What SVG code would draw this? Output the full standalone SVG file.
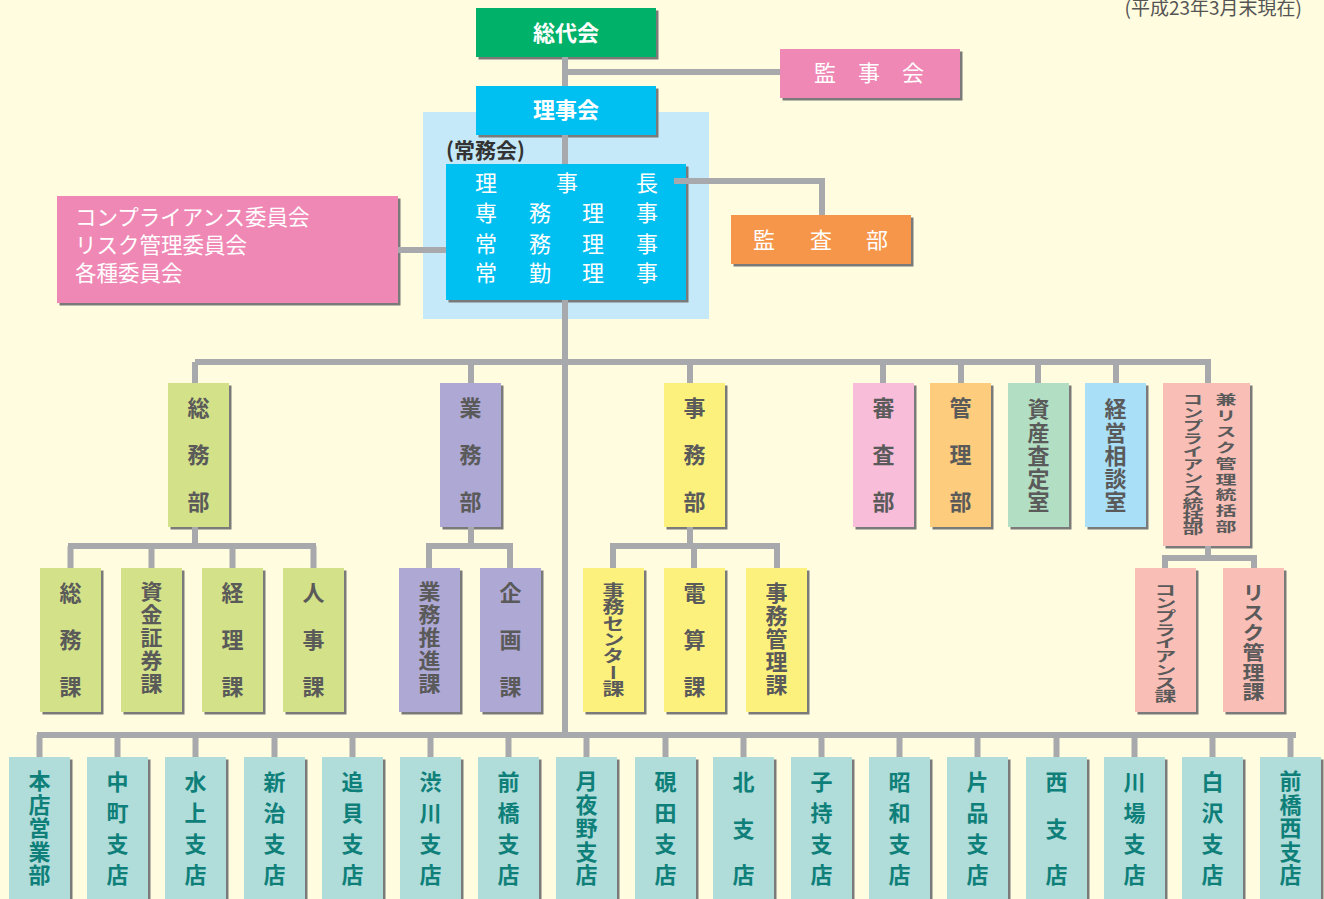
<svg xmlns="http://www.w3.org/2000/svg" width="1324" height="899" viewBox="0 0 1324 899">
<defs>
<filter id="sh" x="-10%" y="-10%" width="130%" height="130%"><feDropShadow dx="2.5" dy="2.5" stdDeviation="0" flood-color="#7a7a7a" flood-opacity="1"/></filter>
<style>
text{font-family:"Noto Sans CJK JP","Noto Sans",sans-serif}
.b{filter:url(#sh)}
.w{fill:#fff;font-size:22px}
.wb{fill:#fff;font-size:22px;font-weight:bold}
.v{writing-mode:vertical-rl;font-size:22px;fill:#5a5a5a;font-weight:bold}
.t{writing-mode:vertical-rl;font-size:22px;fill:#0e8079;font-weight:bold}
.z{letter-spacing:0}
.ln{stroke:#a7a9ac;stroke-width:6;fill:none;stroke-linecap:butt}
.gr{fill:#d3e188}.pu{fill:#aea8d4}.ye{fill:#fdf17e}.sa{fill:#f9bfb7}.br{fill:#b0dcd9}
</style>
</defs>
<rect width="1324" height="899" fill="#fffcdf"/>
<text x="1302" y="15" text-anchor="end" font-size="19" fill="#555">(平成23年3月末現在)</text>
<rect x="423" y="112" width="286" height="207" fill="#c5e9f8"/>
<text x="446" y="158" font-size="21" font-weight="bold" fill="#333">(常務会)</text>

<g id="n-sodaikai"><rect class="b" x="476" y="8" width="180" height="49" fill="#00b16b"/><text class="wb" x="566" y="41" text-anchor="middle">総代会</text></g>
<g id="n-kanjikai"><rect class="b" x="780" y="49" width="180" height="49" fill="#f088b6"/><text x="825" y="81" class="w" text-anchor="middle">監</text><text x="869" y="81" class="w" text-anchor="middle">事</text><text x="913" y="81" class="w" text-anchor="middle">会</text></g>
<g id="n-rijikai"><rect class="b" x="476" y="86" width="180" height="49" fill="#00c0f1"/><text class="wb" x="566" y="118" text-anchor="middle">理事会</text></g>
<g id="n-exec"><rect class="b" x="446" y="164" width="240" height="136" fill="#00c0f1"/>
<g text-anchor="middle">
<text class="w" x="486" y="191">理</text><text class="w" x="567" y="191">事</text><text class="w" x="647" y="191">長</text>
<text class="w" x="486" y="221">専</text><text class="w" x="540" y="221">務</text><text class="w" x="593" y="221">理</text><text class="w" x="647" y="221">事</text>
<text class="w" x="486" y="252">常</text><text class="w" x="540" y="252">務</text><text class="w" x="593" y="252">理</text><text class="w" x="647" y="252">事</text>
<text class="w" x="486" y="281">常</text><text class="w" x="540" y="281">勤</text><text class="w" x="593" y="281">理</text><text class="w" x="647" y="281">事</text>
</g></g>
<g id="n-iinkai"><rect class="b" x="57" y="196" width="341" height="107" fill="#f088b6"/>
<text class="w" x="75" y="225" style="font-size:21.5px">コンプライアンス委員会</text>
<text class="w" x="75" y="253" style="font-size:21.5px">リスク管理委員会</text>
<text class="w" x="75" y="281" style="font-size:21.5px">各種委員会</text></g>
<g id="n-kansabu"><rect class="b" x="731" y="215" width="180" height="49" fill="#f6964b"/><text class="w" x="764" y="248" text-anchor="middle">監</text><text class="w" x="821" y="248" text-anchor="middle">査</text><text class="w" x="877" y="248" text-anchor="middle">部</text></g>

<g id="n-somubu"><rect class="b gr" x="168" y="383" width="61" height="144"/><text class="v" x="198.5" y="397" style="letter-spacing:25px">総務<tspan class="z">部</tspan></text></g>
<g id="n-gyomubu"><rect class="b pu" x="440" y="383" width="61" height="144"/><text class="v" x="470.5" y="397" style="letter-spacing:25px">業務<tspan class="z">部</tspan></text></g>
<g id="n-jimubu"><rect class="b ye" x="664" y="383" width="61" height="144"/><text class="v" x="694.5" y="397" style="letter-spacing:25px">事務<tspan class="z">部</tspan></text></g>
<g id="n-shinsabu"><rect class="b" x="853" y="383" width="61" height="144" fill="#f7bdd9"/><text class="v" x="883.5" y="397" style="letter-spacing:25px">審査<tspan class="z">部</tspan></text></g>
<g id="n-kanribu"><rect class="b" x="930" y="383" width="61" height="144" fill="#fdcc7b"/><text class="v" x="960.5" y="397" style="letter-spacing:25px">管理<tspan class="z">部</tspan></text></g>
<g id="n-shisan"><rect class="b" x="1008" y="383" width="61" height="144" fill="#b2dfc3"/><text class="v" x="1038.5" y="398" style="letter-spacing:1.25px">資産査定室</text></g>
<g id="n-keiei"><rect class="b" x="1085" y="383" width="61" height="144" fill="#a9e0f8"/><text class="v" x="1115.5" y="398" style="letter-spacing:1.25px">経営相談室</text></g>
<g id="n-comp"><rect class="b sa" x="1163" y="383" width="87" height="163"/>
<text class="v" transform="translate(1226 393) scale(1 0.62)" x="0" y="0" style="font-size:21px;letter-spacing:4.5px">兼リスク管理統括部</text>
<text class="v" transform="translate(1193 393) scale(1 0.62)" x="0" y="0" style="font-size:21px;letter-spacing:-0.2px">コンプライアンス統括部</text></g>

<g id="n-somuka"><rect class="b gr" x="40" y="568" width="61" height="144"/><text class="v" x="70.5" y="582" style="letter-spacing:25px">総務<tspan class="z">課</tspan></text></g>
<g id="n-shikin"><rect class="b gr" x="121" y="568" width="61" height="144"/><text class="v" transform="translate(151.5 581) scale(1 0.95)" x="0" y="0" style="letter-spacing:2px">資金証券課</text></g>
<g id="n-keiri"><rect class="b gr" x="202" y="568" width="61" height="144"/><text class="v" x="232.5" y="582" style="letter-spacing:25px">経理<tspan class="z">課</tspan></text></g>
<g id="n-jinji"><rect class="b gr" x="283" y="568" width="61" height="144"/><text class="v" x="313.5" y="582" style="letter-spacing:25px">人事<tspan class="z">課</tspan></text></g>
<g id="n-suishin"><rect class="b pu" x="399" y="568" width="61" height="144"/><text class="v" transform="translate(429.5 581) scale(1 0.95)" x="0" y="0" style="letter-spacing:2px">業務推進課</text></g>
<g id="n-kikaku"><rect class="b pu" x="480" y="568" width="61" height="144"/><text class="v" x="510.5" y="582" style="letter-spacing:25px">企画<tspan class="z">課</tspan></text></g>
<g id="n-center"><rect class="b ye" x="583" y="568" width="61" height="144"/><text class="v" transform="translate(613.5 582) scale(1 0.75)" x="0" y="0" style="letter-spacing:0">事務センター課</text></g>
<g id="n-densan"><rect class="b ye" x="664" y="568" width="61" height="144"/><text class="v" x="694.5" y="582" style="letter-spacing:25px">電算<tspan class="z">課</tspan></text></g>
<g id="n-jimukanri"><rect class="b ye" x="746" y="568" width="61" height="144"/><text class="v" x="776.5" y="582" style="letter-spacing:1px">事務管理課</text></g>
<g id="n-compka"><rect class="b sa" x="1135" y="568" width="61" height="144"/><text class="v" transform="translate(1165.5 583) scale(1 0.6)" x="0" y="0" style="letter-spacing:0.2px">コンプライアンス課</text></g>
<g id="n-riskka"><rect class="b sa" x="1223" y="568" width="61" height="144"/><text class="v" transform="translate(1253.5 583) scale(1 0.9)" x="0" y="0" style="letter-spacing:0">リスク管理課</text></g>

<g id="n-b01"><rect class="b br" x="9" y="757" width="61" height="150"/><text class="t" x="39.5" y="770" style="letter-spacing:1.5px">本店営業部</text></g>
<g id="n-b02"><rect class="b br" x="87" y="757" width="61" height="150"/><text class="t" x="117.5" y="771" style="letter-spacing:9px">中町支<tspan class="z">店</tspan></text></g>
<g id="n-b03"><rect class="b br" x="165" y="757" width="61" height="150"/><text class="t" x="195.5" y="771" style="letter-spacing:9px">水上支<tspan class="z">店</tspan></text></g>
<g id="n-b04"><rect class="b br" x="244" y="757" width="61" height="150"/><text class="t" x="274.5" y="771" style="letter-spacing:9px">新治支<tspan class="z">店</tspan></text></g>
<g id="n-b05"><rect class="b br" x="322" y="757" width="61" height="150"/><text class="t" x="352.5" y="771" style="letter-spacing:9px">追貝支<tspan class="z">店</tspan></text></g>
<g id="n-b06"><rect class="b br" x="400" y="757" width="61" height="150"/><text class="t" x="430.5" y="771" style="letter-spacing:9px">渋川支<tspan class="z">店</tspan></text></g>
<g id="n-b07"><rect class="b br" x="478" y="757" width="61" height="150"/><text class="t" x="508.5" y="771" style="letter-spacing:9px">前橋支<tspan class="z">店</tspan></text></g>
<g id="n-b08"><rect class="b br" x="556" y="757" width="61" height="150"/><text class="t" x="586.5" y="770" style="letter-spacing:1.5px">月夜野支店</text></g>
<g id="n-b09"><rect class="b br" x="635" y="757" width="61" height="150"/><text class="t" x="665.5" y="771" style="letter-spacing:9px">硯田支<tspan class="z">店</tspan></text></g>
<g id="n-b10"><rect class="b br" x="713" y="757" width="61" height="150"/><text class="t" x="743.5" y="771" style="letter-spacing:24.5px">北支<tspan class="z">店</tspan></text></g>
<g id="n-b11"><rect class="b br" x="791" y="757" width="61" height="150"/><text class="t" x="821.5" y="771" style="letter-spacing:9px">子持支<tspan class="z">店</tspan></text></g>
<g id="n-b12"><rect class="b br" x="869" y="757" width="61" height="150"/><text class="t" x="899.5" y="771" style="letter-spacing:9px">昭和支<tspan class="z">店</tspan></text></g>
<g id="n-b13"><rect class="b br" x="947" y="757" width="61" height="150"/><text class="t" x="977.5" y="771" style="letter-spacing:9px">片品支<tspan class="z">店</tspan></text></g>
<g id="n-b14"><rect class="b br" x="1026" y="757" width="61" height="150"/><text class="t" x="1056.5" y="771" style="letter-spacing:24.5px">西支<tspan class="z">店</tspan></text></g>
<g id="n-b15"><rect class="b br" x="1104" y="757" width="61" height="150"/><text class="t" x="1134.5" y="771" style="letter-spacing:9px">川場支<tspan class="z">店</tspan></text></g>
<g id="n-b16"><rect class="b br" x="1182" y="757" width="61" height="150"/><text class="t" x="1212.5" y="771" style="letter-spacing:9px">白沢支<tspan class="z">店</tspan></text></g>
<g id="n-b17"><rect class="b br" x="1260" y="757" width="61" height="150"/><text class="t" x="1290.5" y="770" style="letter-spacing:1.5px">前橋西支店</text></g>

<g id="connectors" class="ln">
<path d="M565 57V86M565 72H780M565 135V164M565 300V735"/>
<path d="M674 181H822V215M398 250H446"/>
<path d="M195 362H1211M195 362V383M471 362V383M690 362V383M883 362V383M961 362V383M1038 362V383M1116 362V383M1208 362V383"/>
<path d="M195 527V546M68 546H316M70.5 546V568M151.5 546V568M232.5 546V568M313.5 546V568"/>
<path d="M471 527V546M426 546H513M429 546V568M510 546V568"/>
<path d="M690 527V546M610 546H780M613 546V568M694 546V568M777 546V568"/>
<path d="M1208 546V558M1162 558H1257M1165 558V568M1254 558V568"/>
<path d="M37 735H1296M39.5 735V757M117.5 735V757M195.5 735V757M274.5 735V757M352.5 735V757M430.5 735V757M508.5 735V757M586.5 735V757M665.5 735V757M743.5 735V757M821.5 735V757M899.5 735V757M977.5 735V757M1056.5 735V757M1134.5 735V757M1212.5 735V757M1290.5 735V757"/>
</g>
</svg>
